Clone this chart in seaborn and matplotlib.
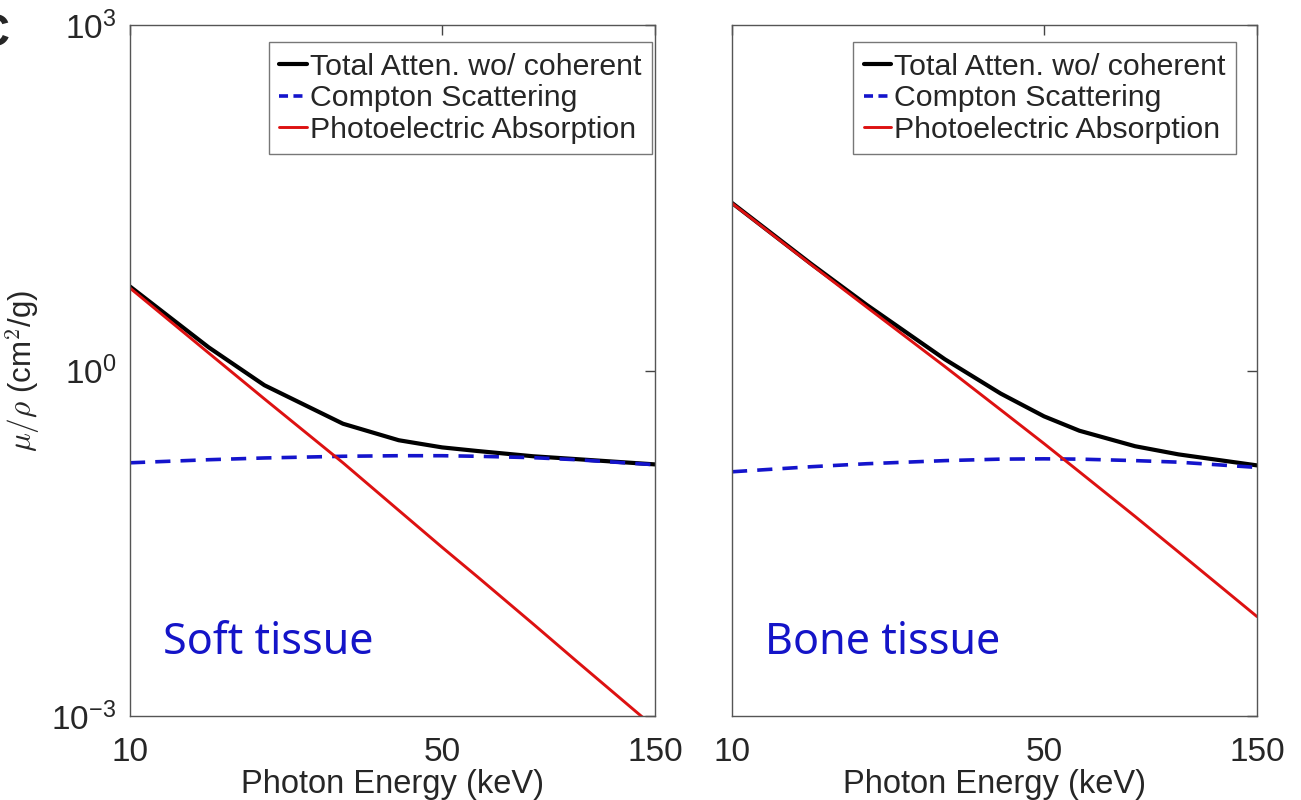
import matplotlib
matplotlib.use("Agg")
import matplotlib.pyplot as plt
import seaborn as sns
import pandas as pd
from matplotlib.ticker import FixedLocator, FixedFormatter, NullLocator

# ---- data ----
energy_kev = [10, 15, 20, 30, 40, 50, 60, 80, 100, 150]
soft_total = [5.36, 1.59, 0.745, 0.345, 0.248, 0.215, 0.200, 0.180, 0.170, 0.153]
soft_compton = [0.158, 0.168, 0.174, 0.180, 0.182, 0.182, 0.180, 0.175, 0.168, 0.152]
soft_photo = [5.2, 1.42, 0.567, 0.158, 0.061, 0.0292, 0.0162, 0.0063, 0.0030, 0.00079]
bone_total = [28.5, 8.5, 3.73, 1.25, 0.63, 0.40, 0.30, 0.22, 0.187, 0.150]
bone_compton = [0.132, 0.146, 0.155, 0.165, 0.170, 0.171, 0.170, 0.165, 0.160, 0.144]
bone_photo = [28.3, 8.37, 3.57, 1.08, 0.455, 0.232, 0.132, 0.054, 0.0266, 0.0073]

series_labels = ["Total Atten. wo/ coherent", "Compton Scattering", "Photoelectric Absorption"]
panel_titles = ["Soft tissue", "Bone tissue"]
x_ticks = [10, 50, 150]
x_tick_labels = ["10", "50", "150"]
y_ticks = [1e-3, 1e0, 1e3]
y_tick_labels = [r"$10^{-3}$", r"$10^{0}$", r"$10^{3}$"]

sns.set_theme(style="white")
plt.rcParams["font.family"] = ["Liberation Sans", "DejaVu Sans"]
plt.rcParams["mathtext.fontset"] = "custom"
plt.rcParams["mathtext.rm"] = "Liberation Sans"
plt.rcParams["mathtext.it"] = "Liberation Sans:italic"

fig = plt.figure(figsize=(13.01, 8.0), dpi=100)
W, H = 1301, 800
ax_l = fig.add_axes([130 / W, 84 / H, 525 / W, 691 / H])
ax_r = fig.add_axes([732 / W, 84 / H, 525 / W, 691 / H])

styles = [
    dict(color="#000000", lw=3.0),
    dict(color="#1414cc", lw=2.6, dashes=(4.2, 2.8)),
    dict(color="#dd1111", lw=2.1),
]

panels = [
    (ax_l, [soft_total, soft_compton, soft_photo], panel_titles[0], (0.994, 0.9754)),
    (ax_r, [bone_total, bone_compton, bone_photo], panel_titles[1], (0.960, 0.9754)),
]

for ax, data, title, anchor in panels:
    for vals, lab, st in zip(data, series_labels, styles):
        df = pd.DataFrame({"E": energy_kev, "mu": vals})
        st = dict(st)
        dashes = st.pop("dashes", None)
        sns.lineplot(data=df, x="E", y="mu", ax=ax, label=lab,
                     color=st["color"], linewidth=st["lw"], sort=False)
        if dashes is not None:
            ax.get_lines()[-1].set_dashes(dashes)
    ax.set_xscale("log")
    ax.set_yscale("log")
    ax.set_xlim(10, 150)
    ax.set_ylim(1e-3, 1e3)
    ax.xaxis.set_major_locator(FixedLocator(x_ticks))
    ax.xaxis.set_major_formatter(FixedFormatter(x_tick_labels))
    ax.xaxis.set_minor_locator(NullLocator())
    ax.yaxis.set_major_locator(FixedLocator(y_ticks))
    ax.yaxis.set_major_formatter(FixedFormatter(y_tick_labels))
    ax.yaxis.set_minor_locator(NullLocator())
    ax.tick_params(axis="both", which="major", direction="in", length=7, width=1,
                   color="#444444", labelsize=24, top=True, right=True)
    ax.tick_params(axis="x", pad=15)
    ax.tick_params(axis="y", pad=10)
    for sp in ax.spines.values():
        sp.set_visible(True)
        sp.set_color("#555555")
        sp.set_linewidth(1.0)
    ax.set_xlabel("Photon Energy (keV)", fontsize=23.5, labelpad=1)
    ax.set_ylabel("")
    leg = ax.legend(loc="upper right", bbox_to_anchor=anchor, fontsize=21.8,
                    frameon=True, fancybox=False, borderaxespad=0,
                    handlelength=0.92, handletextpad=0.08, labelspacing=0.12,
                    borderpad=0.35)
    leg.get_frame().set_edgecolor("#555555")
    leg.get_frame().set_linewidth(1.0)
    leg.get_lines()[1].set_dashes((2.5, 1.5))
    ax.text(0.063, 0.106, title, transform=ax.transAxes, fontsize=31,
            color="#1414c8", family=["Noto Sans", "DejaVu Sans"], va="center", ha="left")

ax_r.tick_params(axis="y", labelleft=False)
ax_l.set_ylabel(r"$\mu/\rho$ (cm$^2$/g)", fontsize=22.5, math_fontfamily="cm", labelpad=6)

fig.text(-0.019, 0.957, "C", fontsize=34, fontweight="bold", ha="left", va="center")

fig.savefig("out.png", dpi=100)
